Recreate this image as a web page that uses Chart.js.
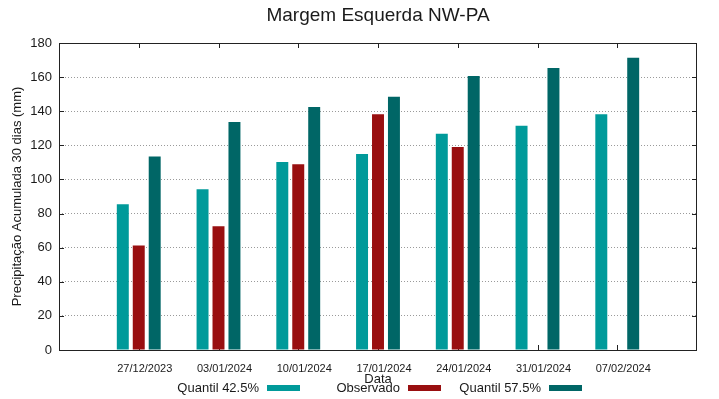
<!DOCTYPE html>
<html>
<head>
<meta charset="utf-8">
<script src="https://cdn.jsdelivr.net/npm/chart.js@4"></script>
<style>
  html, body { margin: 0; padding: 0; background: #fff; }
  #wrap { width: 719px; height: 399px; }
</style>
</head>
<body>
<div id="wrap"><canvas id="chart" width="719" height="399"></canvas></div>
<script>
// ─── data ─────────────────────────────────────────────
const dates     = ['27/12/2023', '03/01/2024', '10/01/2024', '17/01/2024', '24/01/2024', '31/01/2024', '07/02/2024'];
const quantil42 = [85.5, 94.2, 110.2, 114.9, 126.8, 131.5, 138.2];
const observado = [61.2, 72.5, 108.9, 138.2, 119.0, null, null];
const quantil57 = [113.4, 133.7, 142.5, 148.5, 160.6, 165.3, 171.4];
const yTicks    = [0, 20, 40, 60, 80, 100, 120, 140, 160, 180];

const COLORS = {
  q42: '#009a9a',
  obs: '#990f10',
  q57: '#006666',
  grid: '#9a9a9a',
  text: '#1a1a1a',
};
const FONT = "'Liberation Sans', Arial, sans-serif";

const toPts = arr => arr.map((v, i) => ({ x: i, y: v }));

// ─── decorations: box, inward ticks, title, legend ───────────
const gnuplotDeco = {
  id: 'gnuplotDeco',
  beforeDatasetsDraw(chart) {
    const { ctx, chartArea: a, scales } = chart;
    ctx.save();
    ctx.strokeStyle = '#222';
    ctx.lineWidth = 1;
    ctx.beginPath();
    dates.forEach((d, i) => {
      const px = Math.round(scales.x.getPixelForValue(i)) + 0.5;
      ctx.moveTo(px, a.bottom); ctx.lineTo(px, a.bottom - 5);
      ctx.moveTo(px, a.top);    ctx.lineTo(px, a.top + 5);
    });
    yTicks.forEach(v => {
      const py = Math.round(scales.y.getPixelForValue(v)) + 0.5;
      ctx.moveTo(a.left, py);  ctx.lineTo(a.left + 5, py);
      ctx.moveTo(a.right, py); ctx.lineTo(a.right - 5, py);
    });
    ctx.stroke();
    ctx.restore();
  },
  afterDraw(chart) {
    const { ctx, chartArea: a } = chart;
    ctx.save();
    ctx.strokeStyle = '#222';
    ctx.lineWidth = 1;
    ctx.strokeRect(Math.round(a.left) + 0.5, Math.round(a.top) + 0.5,
                   Math.round(a.right - a.left) - 1, Math.round(a.bottom - a.top));

    const cx = (a.left + a.right) / 2;
    ctx.fillStyle = COLORS.text;
    ctx.textBaseline = 'middle';
    ctx.textAlign = 'center';
    ctx.font = '19px ' + FONT;
    ctx.fillText('Margem Esquerda NW-PA', cx, 16);
    ctx.font = '13px ' + FONT;
    ctx.fillText('Data', cx, 379);

    // legend: text then sample (gnuplot style)
    const items = [
      { label: 'Quantil 42.5%', color: COLORS.q42, right: 259 },
      { label: 'Observado',     color: COLORS.obs, right: 400 },
      { label: 'Quantil 57.5%', color: COLORS.q57, right: 541 },
    ];
    ctx.textAlign = 'right';
    items.forEach(it => {
      ctx.fillStyle = COLORS.text;
      ctx.fillText(it.label, it.right, 388);
      ctx.fillStyle = it.color;
      ctx.fillRect(it.right + 8, 385, 33, 6);
    });
    ctx.restore();
  }
};

new Chart(document.getElementById('chart'), {
  type: 'bar',
  data: {
    datasets: [
      { label: 'Quantil 42.5%', data: toPts(quantil42), backgroundColor: COLORS.q42 },
      { label: 'Observado',     data: toPts(observado), backgroundColor: COLORS.obs },
      { label: 'Quantil 57.5%', data: toPts(quantil57), backgroundColor: COLORS.q57 },
    ]
  },
  options: {
    responsive: false,
    animation: false,
    events: [],
    categoryPercentage: 0.6,
    barPercentage: 0.75,
    layout: { padding: { top: 43, right: 22, left: 0, bottom: 0 } },
    plugins: {
      legend: { display: false },
      title: { display: false },
      tooltip: { enabled: false },
    },
    scales: {
      x: {
        type: 'linear',
        offset: false,
        min: -1,
        max: 7,
        afterBuildTicks: s => { s.ticks = dates.map((d, i) => ({ value: i })); },
        afterFit: s => { s.height = 49; },
        grid: { display: false, drawTicks: false, offset: false },
        border: { display: false },
        ticks: {
          padding: 12,
          labelOffset: 6,
          maxRotation: 0,
          autoSkip: false,
          color: COLORS.text,
          font: { family: FONT, size: 11 },
          callback: v => dates[v] ?? '',
        }
      },
      y: {
        min: 0,
        max: 180,
        afterBuildTicks: s => { s.ticks = yTicks.map(v => ({ value: v })); },
        afterFit: s => { s.width = 59; },
        grid: { color: COLORS.grid, lineWidth: 1, drawTicks: false },
        border: { display: false, dash: [1, 2] },
        ticks: {
          padding: 7,
          color: COLORS.text,
          font: { family: FONT, size: 13 },
        },
        title: {
          display: true,
          text: 'Precipitação Acumulada 30 dias (mm)',
          color: COLORS.text,
          font: { family: FONT, size: 13 },
          padding: { top: 10, bottom: 0 },
        }
      }
    }
  },
  plugins: [gnuplotDeco]
});
</script>
</body>
</html>
